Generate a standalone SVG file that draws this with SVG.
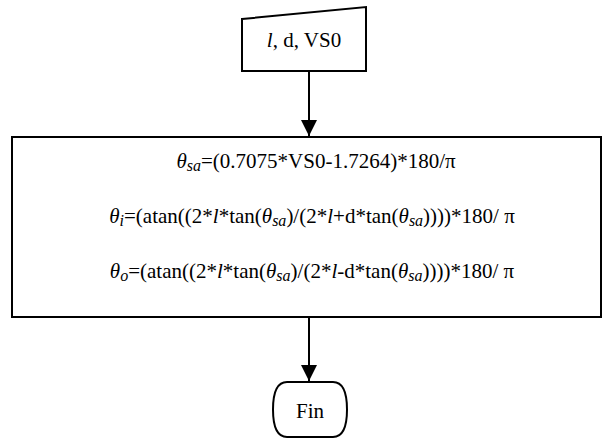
<svg xmlns="http://www.w3.org/2000/svg" width="611" height="438" viewBox="0 0 611 438">
  <style>
    .shape { fill: #ffffff; stroke: #000000; stroke-width: 2; }
    .edge { fill: none; stroke: #000000; stroke-width: 2; }
    .lbl { font-family: 'Liberation Serif', 'Times New Roman', serif; font-size: 21px; fill: #000000; text-anchor: middle; }
    .i { font-style: italic; }
    .sub { font-style: italic; font-size: 16px; }
  </style>
  <defs>
    <marker id="arrow" viewBox="0 0 16 16" refX="16" refY="8" markerWidth="16" markerHeight="16" markerUnits="userSpaceOnUse" orient="auto">
      <path d="M0,0 L16,8 L0,16 Z" fill="#000000"/>
    </marker>
  </defs>

  <!-- flow arrows -->
  <g id="connectors">
    <line class="edge" x1="309" y1="71" x2="309" y2="136" marker-end="url(#arrow)"/>
    <line class="edge" x1="309" y1="317" x2="309" y2="381" marker-end="url(#arrow)"/>
  </g>

  <!-- manual input -->
  <g id="input">
    <path class="shape" d="M242,19 L366,7 L366,71 L242,71 Z"/>
    <text class="lbl" x="304" y="47"><tspan class="i">l</tspan>, d, VS0</text>
  </g>

  <!-- angle computations -->
  <g id="process">
    <rect class="shape" x="12" y="137" width="589" height="180"/>
    <text class="lbl" x="316" y="168"><tspan class="i">θ</tspan><tspan class="sub" dy="3">sa</tspan><tspan dy="-3">=(0.7075*VS0-1.7264)*180/π</tspan></text>
    <text class="lbl" x="312" y="223"><tspan class="i">θ</tspan><tspan class="sub" dy="3">i</tspan><tspan dy="-3">=(atan((2*</tspan><tspan class="i">l</tspan>*tan(<tspan class="i">θ</tspan><tspan class="sub" dy="3">sa</tspan><tspan dy="-3">)/(2*</tspan><tspan class="i">l</tspan>+d*tan(<tspan class="i">θ</tspan><tspan class="sub" dy="3">sa</tspan><tspan dy="-3">))))*180/ π</tspan></text>
    <text class="lbl" x="312" y="278"><tspan class="i">θ</tspan><tspan class="sub" dy="3">o</tspan><tspan dy="-3">=(atan((2*</tspan><tspan class="i">l</tspan>*tan(<tspan class="i">θ</tspan><tspan class="sub" dy="3">sa</tspan><tspan dy="-3">)/(2*</tspan><tspan class="i">l</tspan>-d*tan(<tspan class="i">θ</tspan><tspan class="sub" dy="3">sa</tspan><tspan dy="-3">))))*180/ π</tspan></text>
  </g>

  <!-- terminator -->
  <g id="end">
    <path class="shape" d="M287,382 L333,382 Q347,382 347,409.5 Q347,437 333,437 L287,437 Q273,437 273,409.5 Q273,382 287,382 Z"/>
    <text class="lbl" x="310" y="418">Fin</text>
  </g>
</svg>
